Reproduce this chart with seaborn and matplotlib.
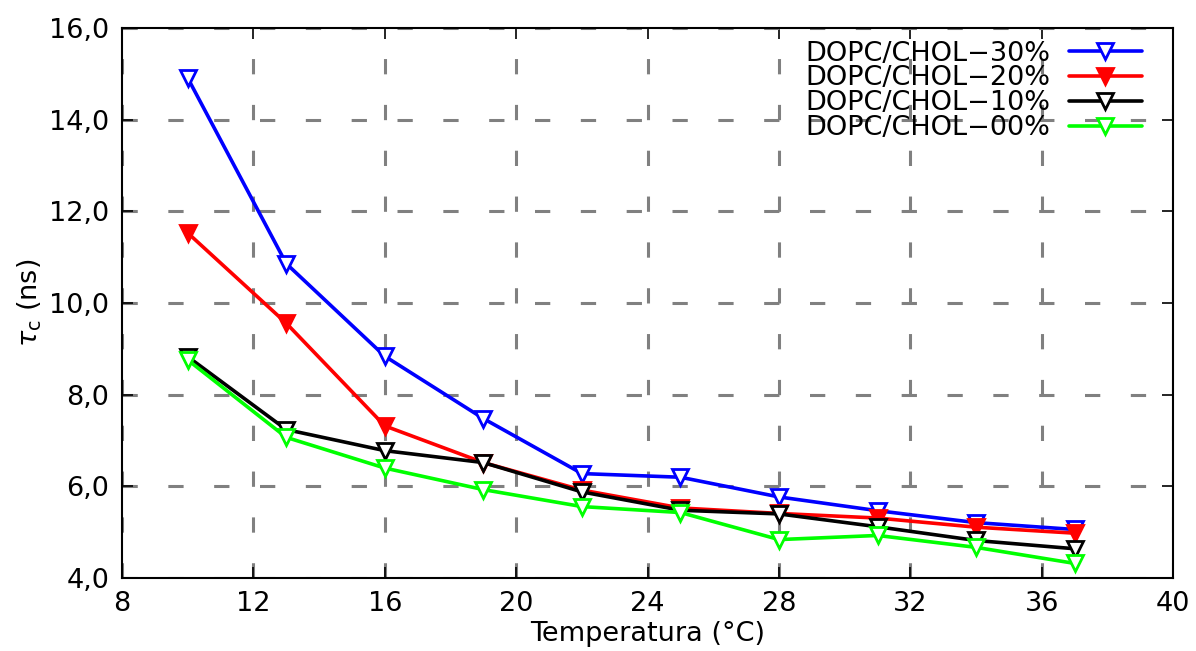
#!/usr/bin/env python3
# tau_c vs temperature, DOPC/CHOL mixtures

import matplotlib
matplotlib.use('Agg')
import matplotlib.pyplot as plt
import matplotlib.ticker as mticker
import pandas as pd
import seaborn as sns

# Data =========================================================================

temperatura = [10, 13, 16, 19, 22, 25, 28, 31, 34, 37]
chol_30 = [14.91, 10.86, 8.84, 7.48, 6.28, 6.20, 5.77, 5.47, 5.21, 5.06]
chol_20 = [11.53, 9.56, 7.32, 6.52, 5.92, 5.53, 5.41, 5.31, 5.11, 4.98]
chol_10 = [8.83, 7.24, 6.78, 6.52, 5.88, 5.48, 5.40, 5.12, 4.82, 4.64]
chol_00 = [8.76, 7.07, 6.40, 5.93, 5.56, 5.43, 4.84, 4.93, 4.67, 4.32]

labels = ['DOPC/CHOL\u221230%', 'DOPC/CHOL\u221220%',
          'DOPC/CHOL\u221210%', 'DOPC/CHOL\u221200%']
colors = ['#0000ff', '#ff0000', '#000000', '#00ff00']
filled = [False, True, False, False]


def main():
    sns.set_theme(style='ticks')
    plt.rcParams['font.family'] = ['DejaVu Sans']
    plt.rcParams['mathtext.fontset'] = 'dejavusans'
    plt.rcParams['text.color'] = 'black'
    plt.rcParams['axes.labelcolor'] = 'black'

    df = pd.DataFrame({
        'T': temperatura * 4,
        'tau': chol_30 + chol_20 + chol_10 + chol_00,
        'serie': [l for l in labels for _ in temperatura],
    })

    fig = plt.figure(figsize=(11.96, 6.51), dpi=100)
    ax = fig.add_axes([0.102, 0.112, 0.879, 0.845])

    for lab, col, fill in zip(labels, colors, filled):
        sns.lineplot(
            data=df[df['serie'] == lab], x='T', y='tau', ax=ax,
            color=col, linewidth=2.6, label=lab,
            marker='v', markersize=11, markeredgewidth=2,
            markeredgecolor=col,
            markerfacecolor=col if fill else 'white',
            zorder=3,
        )

    ax.set_xlim(8, 40)
    ax.set_ylim(4, 16)
    ax.xaxis.set_major_locator(mticker.MultipleLocator(4))
    ax.yaxis.set_major_locator(mticker.MultipleLocator(2))
    ax.yaxis.set_major_formatter(
        mticker.FuncFormatter(lambda v, p: f'{v:.1f}'.replace('.', ',')))

    ax.grid(True, color='#808080', linestyle=(0, (5, 10)), linewidth=2.2)
    ax.tick_params(direction='in', length=8, width=1.2, labelsize=19.5,
                   top=True, right=True, colors='black', pad=9)
    for s in ax.spines.values():
        s.set_color('black')
        s.set_linewidth(1.5)

    ax.set_xlabel('Temperatura (\u00b0C)', fontsize=19.5, labelpad=3)
    ax.set_ylabel(r'$\tau_{\rm c}$ (ns)', fontsize=19.5, labelpad=4)

    ax.legend(loc='upper right', bbox_to_anchor=(0.978, 0.992),
              frameon=False, fontsize=19.5, labelcolor='black',
              markerfirst=False, handlelength=2.7, labelspacing=-0.04,
              borderaxespad=0, borderpad=0.3, handletextpad=0.7)

    fig.savefig('out.png', dpi=100)


if __name__ == '__main__':
    main()
